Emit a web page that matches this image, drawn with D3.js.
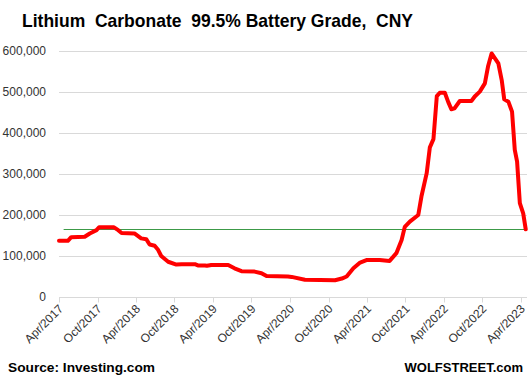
<!DOCTYPE html>
<html>
<head>
<meta charset="utf-8">
<script src="https://cdn.jsdelivr.net/npm/d3@7"></script>
<style>
  body { margin: 0; background: #fff; }
  text { font-family: "Liberation Sans", Arial, sans-serif; }
</style>
</head>
<body>
<div id="chart"></div>
<script>
// Lithium carbonate price (date, CNY per ton)
const dates = [
    "2017-04-01", "2017-05-13", "2017-05-29", "2017-08-01", "2017-08-25", "2017-09-26",
    "2017-10-08", "2017-12-18", "2018-01-07", "2018-01-23", "2018-03-25", "2018-04-26",
    "2018-05-20", "2018-06-05", "2018-06-29", "2018-07-14", "2018-07-30", "2018-09-01",
    "2018-10-10", "2018-11-04", "2019-01-06", "2019-01-20", "2019-02-23", "2019-03-04",
    "2019-03-25", "2019-06-13", "2019-07-13", "2019-08-15", "2019-10-16", "2019-11-18",
    "2019-12-12", "2020-03-22", "2020-04-09", "2020-06-11", "2020-11-01", "2020-12-03",
    "2020-12-26", "2021-01-27", "2021-02-28", "2021-03-30", "2021-06-01", "2021-07-18",
    "2021-08-19", "2021-09-13", "2021-09-28", "2021-10-22", "2021-12-01", "2021-12-16",
    "2022-01-10", "2022-01-25", "2022-02-11", "2022-02-27", "2022-03-13", "2022-04-06",
    "2022-04-22", "2022-05-07", "2022-05-22", "2022-06-16", "2022-08-10", "2022-08-26",
    "2022-09-19", "2022-10-13", "2022-10-28", "2022-11-14", "2022-11-30", "2022-12-16",
    "2023-01-01", "2023-01-13", "2023-02-02", "2023-02-19", "2023-03-04", "2023-03-15",
    "2023-03-28", "2023-04-13", "2023-04-25"
];
const prices = [
    137000, 137000, 146000, 147000, 155000, 163000,
    170000, 170000, 163000, 156000, 155000, 143000,
    141000, 128000, 125000, 116000, 100000, 86000,
    79000, 80000, 80000, 77000, 77000, 76000,
    78000, 78000, 70000, 63000, 62000, 58000,
    51000, 50000, 49000, 42000, 41000, 45000,
    50000, 70000, 84000, 90000, 90000, 88000,
    107000, 139000, 171000, 184000, 200000, 245000,
    302000, 365000, 385000, 490000, 498000, 498000,
    476000, 458000, 460000, 478000, 478000, 489000,
    501000, 521000, 562000, 594000, 582000, 570000,
    529000, 482000, 476000, 452000, 359000, 330000,
    229000, 204000, 165000
];

// horizontal marker at the latest price
const refDates = ["2017-04-23", "2023-05-01"];
const refValue = 165000;

const yTicks = [0, 100000, 200000, 300000, 400000, 500000, 600000];
const xTickLabels = [
    "Apr/2017", "Oct/2017", "Apr/2018", "Oct/2018", "Apr/2019", "Oct/2019", "Apr/2020",
    "Oct/2020", "Apr/2021", "Oct/2021", "Apr/2022", "Oct/2022", "Apr/2023"
];

const parse = d3.timeParse("%Y-%m-%d");
const fmtLabel = d3.timeFormat("%b/%Y");
const series = dates.map((d, i) => ({ date: parse(d), value: prices[i] }));

const width = 530, height = 385;
const margin = { top: 51, right: 3, bottom: 88, left: 59 };

const svg = d3.select("#chart")
    .append("svg")
    .attr("width", width)
    .attr("height", height);

const x = d3.scaleTime()
    .domain([new Date(2017, 3, 1), new Date(2023, 4, 1)])
    .range([margin.left, width - margin.right]);

const y = d3.scaleLinear()
    .domain([0, 600000])
    .range([height - margin.bottom, margin.top]);

// gridlines
svg.append("g")
    .selectAll("line")
    .data(yTicks.filter(d => d > 0))
    .enter()
    .append("line")
    .attr("x1", x.range()[0])
    .attr("x2", x.range()[1])
    .attr("y1", d => Math.round(y(d)) + 0.5)
    .attr("y2", d => Math.round(y(d)) + 0.5)
    .attr("stroke", "#d9d9d9")
    .attr("stroke-width", 1);

// y labels
svg.append("g")
    .selectAll("text")
    .data(yTicks)
    .enter()
    .append("text")
    .attr("x", margin.left - 13)
    .attr("y", d => y(d))
    .attr("dy", "0.35em")
    .attr("text-anchor", "end")
    .attr("font-size", 12)
    .attr("fill", "#333")
    .text(d => d3.format(",")(d));

// x axis
const xTickDates = xTickLabels.map(s => d3.timeParse("%b/%Y")(s));
const xAxis = svg.append("g")
    .attr("transform", `translate(0,${Math.round(y(0)) + 0.5})`);
xAxis.append("line")
    .attr("x1", x.range()[0])
    .attr("x2", x.range()[1])
    .attr("stroke", "#d9d9d9");
xAxis.selectAll(".tick")
    .data(xTickDates)
    .enter()
    .append("line")
    .attr("x1", d => Math.round(x(d)) + 0.5)
    .attr("x2", d => Math.round(x(d)) + 0.5)
    .attr("y1", 0)
    .attr("y2", 5)
    .attr("stroke", "#d9d9d9");
xAxis.selectAll("text")
    .data(xTickDates)
    .enter()
    .append("text")
    .attr("transform", d => `translate(${x(d) + 5},12) rotate(-45)`)
    .attr("text-anchor", "end")
    .attr("font-size", 12)
    .attr("fill", "#333")
    .text(d => fmtLabel(d));

// reference line
svg.append("line")
    .attr("x1", x(parse(refDates[0])))
    .attr("x2", x(parse(refDates[1])))
    .attr("y1", Math.round(y(refValue)) + 0.5)
    .attr("y2", Math.round(y(refValue)) + 0.5)
    .attr("stroke", "#3c9a48")
    .attr("stroke-width", 1);

// price line
const line = d3.line()
    .x(d => x(d.date))
    .y(d => y(d.value));

svg.append("path")
    .datum(series)
    .attr("fill", "none")
    .attr("stroke", "#ff0000")
    .attr("stroke-width", 4)
    .attr("stroke-linejoin", "round")
    .attr("stroke-linecap", "round")
    .attr("d", line);

// title and notes
svg.append("text")
    .attr("x", 22)
    .attr("y", 27)
    .attr("font-size", 19)
    .attr("font-weight", "bold")
    .attr("fill", "#000")
    .style("white-space", "pre")
    .attr("textLength", 391)
    .attr("lengthAdjust", "spacingAndGlyphs")
    .text("Lithium  Carbonate  99.5% Battery Grade,  CNY");

svg.append("text")
    .attr("x", 8)
    .attr("y", 372)
    .attr("font-size", 13)
    .attr("font-weight", "bold")
    .attr("fill", "#000")
    .attr("textLength", 147)
    .attr("lengthAdjust", "spacingAndGlyphs")
    .text("Source: Investing.com");

svg.append("text")
    .attr("x", 523)
    .attr("y", 372)
    .attr("text-anchor", "end")
    .attr("font-size", 13)
    .attr("font-weight", "bold")
    .attr("fill", "#000")
    .text("WOLFSTREET.com");
</script>
</body>
</html>
